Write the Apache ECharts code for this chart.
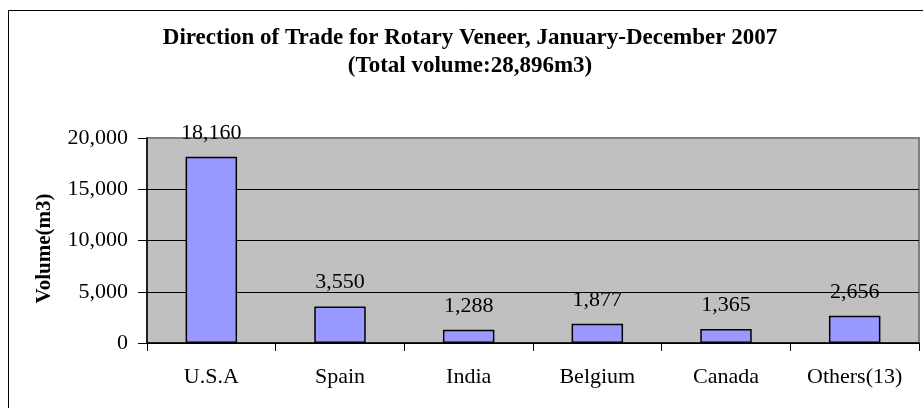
<!DOCTYPE html>
<html>
<head>
<meta charset="UTF-8">
<title>Direction of Trade for Rotary Veneer</title>
<script src="https://cdn.jsdelivr.net/npm/echarts@6/dist/echarts.min.js"></script>
<style>
  html, body { margin: 0; padding: 0; background: #fff; }
  #chart { width: 923px; height: 408px; }
</style>
</head>
<body>
<div id="chart"></div>
<script>
// data
const countries = ['U.S.A', 'Spain', 'India', 'Belgium', 'Canada', 'Others(13)'];
const volumes = [18160, 3550, 1288, 1877, 1365, 2656];
const yTicks = [0, 5000, 10000, 15000, 20000];

const serif = '"Liberation Serif", "Times New Roman", serif';
const fmt = v => v.toLocaleString('en-US');

const chart = echarts.init(document.getElementById('chart'));

chart.setOption({
    animation: false,
    backgroundColor: '#fff',
    title: {
        text: 'Direction of Trade for Rotary Veneer, January-December 2007\n(Total volume:28,896m3)',
        left: 465,
        top: 19,
        textAlign: 'center',
        textStyle: {
            fontFamily: serif,
            fontSize: 23,
            fontWeight: 'bold',
            color: '#000',
            lineHeight: 28
        }
    },
    // outer chart frame (right/bottom edges fall outside the picture)
    graphic: [{
        type: 'rect',
        shape: { x: 8.5, y: 10.5, width: 930, height: 420 },
        style: { fill: 'none', stroke: '#000', lineWidth: 1 },
        z: -1
    }],
    grid: {
        left: 147,
        top: 138,
        right: 4,
        bottom: 65,
        show: true,
        backgroundColor: '#C0C0C0',
        borderColor: '#808080',
        borderWidth: 2
    },
    xAxis: {
        type: 'category',
        data: countries,
        axisLine: { lineStyle: { color: '#000', width: 1.5 } },
        axisTick: { show: true, length: 8, lineStyle: { color: '#000' } },
        axisLabel: {
            fontFamily: serif,
            fontSize: 22,
            color: '#000',
            margin: 23
        }
    },
    yAxis: {
        type: 'value',
        min: yTicks[0],
        max: yTicks[yTicks.length - 1],
        interval: yTicks[1] - yTicks[0],
        name: 'Volume(m3)',
        nameLocation: 'middle',
        nameGap: 92,
        nameTextStyle: {
            fontFamily: serif,
            fontSize: 21,
            fontWeight: 'bold',
            color: '#000',
            padding: [0, 16, 0, 0]
        },
        axisLine: { show: true, lineStyle: { color: '#000', width: 1.5 } },
        axisTick: { show: true, length: 9, lineStyle: { color: '#000' } },
        axisLabel: {
            fontFamily: serif,
            fontSize: 22,
            color: '#000',
            margin: 19,
            formatter: fmt
        },
        splitLine: {
            show: true,
            lineStyle: { color: ['#000', '#000', '#000', '#000', '#808080'], width: 1 }
        }
    },
    series: [{
        type: 'bar',
        data: volumes,
        barWidth: '40%',
        itemStyle: {
            color: '#9999FF',
            borderColor: '#000',
            borderWidth: 1.5
        },
        label: {
            show: true,
            position: 'top',
            distance: 13,
            fontFamily: serif,
            fontSize: 22,
            color: '#000',
            formatter: p => fmt(p.value)
        }
    }]
});
</script>
</body>
</html>
